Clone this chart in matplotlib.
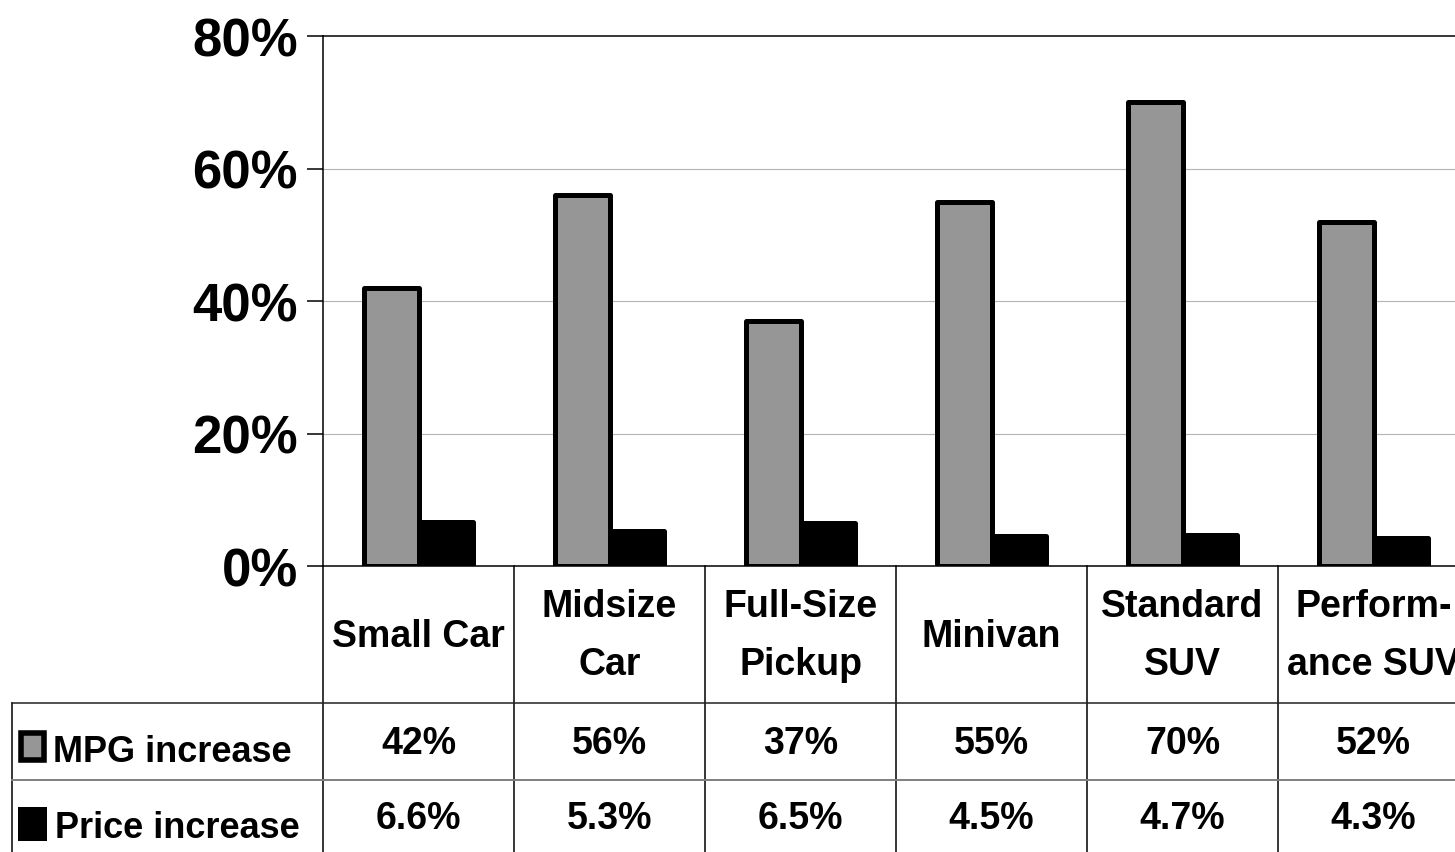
import matplotlib
matplotlib.use("Agg")
import matplotlib.pyplot as plt
from matplotlib.patches import Rectangle
from matplotlib.lines import Line2D
from matplotlib.transforms import blended_transform_factory

# ---- data -------------------------------------------------------------
categories = ["Small Car", "Midsize\nCar", "Full-Size\nPickup",
              "Minivan", "Standard\nSUV", "Perform-\nance SUV"]
mpg_increase = [42, 56, 37, 55, 70, 52]          # percent
price_increase = [6.6, 5.3, 6.5, 4.5, 4.7, 4.3]  # percent
series_names = ["MPG increase", "Price increase"]
y_ticks = [0, 20, 40, 60, 80]

# ---- style ------------------------------------------------------------
plt.rcParams["font.family"] = ["Liberation Sans", "DejaVu Sans"]
plt.rcParams["font.weight"] = "bold"
GRAY = "#969696"

W, H = 1455, 853
fig = plt.figure(figsize=(W / 100, H / 100), dpi=100)
fig.patch.set_facecolor("white")


def fx(px):
    return px / W


def fy(py):
    return 1 - py / H


# plot area (extends past the right edge of the canvas)
ax_left, ax_right, ax_top, ax_bottom = 323, 1469, 37, 567
ax = fig.add_axes([fx(ax_left), fy(ax_bottom),
                   fx(ax_right - ax_left), (ax_bottom - ax_top) / H])

n = len(categories)
x = list(range(n))
bw = 0.285
off = 0.1425

ax.bar([i - off for i in x], mpg_increase, width=bw, color=GRAY,
       edgecolor="black", linewidth=3.6, joinstyle="round", zorder=3)
ax.bar([i + off for i in x], price_increase, width=bw, color="black",
       edgecolor="black", linewidth=3.6, joinstyle="round", zorder=3)

ax.set_xlim(-0.5, n - 0.5)
ax.set_ylim(0, 80)
ax.set_yticks(y_ticks)
ax.set_yticklabels([f"{t}%" for t in y_ticks], fontsize=38,
                   fontweight="bold")
ax.set_xticks([])
ax.tick_params(axis="y", direction="out", length=11.5, width=1.1,
               pad=6.5, colors="black")

for t in y_ticks[1:-1]:
    ax.axhline(t, color="#b4b4b4", lw=0.8, zorder=1)

for side in ("left", "bottom", "top"):
    ax.spines[side].set_color("black")
    ax.spines[side].set_linewidth(1.1)
ax.spines["right"].set_visible(False)

# ---- data table underneath -------------------------------------------
trans = blended_transform_factory(ax.transData, fig.transFigure)

row1_top, row2_top, table_bottom = 704, 781, 858
left_col = 12

# vertical cell borders
for i in range(n + 1):
    fig.add_artist(Line2D([i - 0.5, i - 0.5], [fy(ax_bottom), fy(table_bottom)],
                          transform=trans, color="black", lw=1.1))
fig.add_artist(Line2D([fx(left_col), fx(left_col)], [fy(row1_top), fy(table_bottom)],
                      transform=fig.transFigure, color="black", lw=1.1))

# horizontal row borders
fig.add_artist(Line2D([fx(left_col), 1], [fy(row1_top), fy(row1_top)],
                      transform=fig.transFigure, color="#222222", lw=1.1))
fig.add_artist(Line2D([fx(left_col), 1], [fy(row2_top), fy(row2_top)],
                      transform=fig.transFigure, color="#7f7f7f", lw=1.4))

# category header row
for i, cat in enumerate(categories):
    lines = cat.split("\n")
    baselines = [647] if len(lines) == 1 else [617, 675]
    for line, b in zip(lines, baselines):
        ax.text(i, fy(b), line, transform=trans, ha="center", va="baseline",
                fontsize=27, fontweight="bold", clip_on=False)

# value rows
for i in range(n):
    ax.text(i, fy(754), f"{mpg_increase[i]:g}%", transform=trans,
            ha="center", va="baseline", fontsize=27, fontweight="bold")
    ax.text(i, fy(829), f"{price_increase[i]:.1f}%", transform=trans,
            ha="center", va="baseline", fontsize=27, fontweight="bold")

# row headers with legend keys
fig.add_artist(Rectangle((fx(21), fy(761)), fx(23), 27 / H,
                         transform=fig.transFigure, facecolor=GRAY,
                         edgecolor="black", linewidth=4))
fig.add_artist(Rectangle((fx(18), fy(842)), fx(29), 34 / H,
                         transform=fig.transFigure, facecolor="black",
                         edgecolor="none"))
fig.text(fx(53), fy(762), series_names[0], ha="left", va="baseline",
         fontsize=26, fontweight="bold")
fig.text(fx(55), fy(838), series_names[1], ha="left", va="baseline",
         fontsize=26, fontweight="bold")

fig.savefig("out.png", dpi=100, facecolor="white")
